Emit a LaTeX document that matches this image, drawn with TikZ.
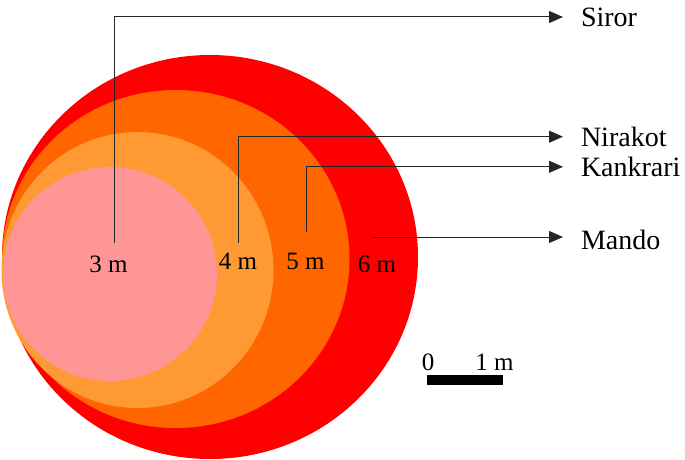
\documentclass[tikz,border=0pt]{standalone}
\usepackage{fontspec}
\setmainfont{Liberation Serif}
\usetikzlibrary{arrows.meta}
\definecolor{cred}{HTML}{FF0000}
\definecolor{cdark}{HTML}{FF6600}
\definecolor{clight}{HTML}{FF9933}
\definecolor{cpink}{HTML}{FF9696}
\tikzset{
  conn/.style={draw=black!85, line width=1pt, -{Triangle[length=14pt,width=12pt]}},
  village/.style={anchor=west, inner sep=0pt, outer xsep=18pt, outer ysep=0pt, font=\fontsize{28}{30}\selectfont},
  dist/.style={inner sep=0pt, font=\fontsize{25}{27}\selectfont},
}
\begin{document}
\begin{tikzpicture}[x=1pt,y=-1pt]
\useasboundingbox (0,0) rectangle (685,460);
% zones
\fill[cred]   (210,257) ellipse [x radius=208, y radius=202];
\fill[cdark]  (175.75,259) ellipse [x radius=173.75, y radius=169];
\fill[clight] (137.5,270) ellipse [x radius=136, y radius=138];
\fill[cpink]  (110,274) circle [radius=107];
% distance labels
\node[dist] (l3) at (108.5,264) {3 m};
\node[dist] (l4) at (238,261.5) {4 m};
\node[dist] (l5) at (305.5,261) {5 m};
\node[dist] (l6) at (377,264.5) {6 m};
% village labels
\node[village] (siror)    at (563,17)  {Siror};
\node[village] (nirakot)  at (563,136.7) {Nirakot};
\node[village] (kankrari) at (563,166.8) {Kankrari};
\node[village] (mando)    at (563,240) {Mando};
% connector start points
\coordinate (c3) at (114.5,243);
\coordinate (c4) at (238.5,243);
\coordinate (c5) at (306,232);
\coordinate (c6) at (372,237);
\draw[conn] (c3) |- (siror.west);
\draw[conn] (c4) |- (nirakot.west);
\draw[conn] (c5) |- (kankrari.west);
\draw[conn] (c6) -- (c6 -| mando.west);
% scale bar
\fill[black] (427,375) rectangle (503,385);
\node[dist] (s0) at (428,362) {0};
\node[dist] (s1) at (494.5,362) {1 m};
\end{tikzpicture}
\end{document}
